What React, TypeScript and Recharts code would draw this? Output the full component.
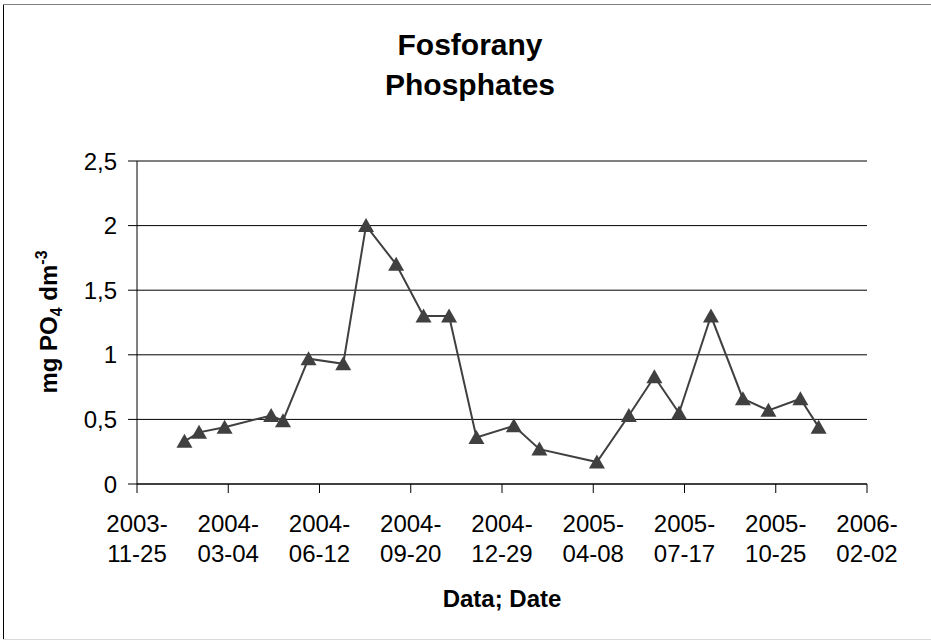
import React from 'react';
import { LineChart, Line, XAxis, YAxis, CartesianGrid } from 'recharts';

// sampling dates and phosphate concentrations (mg PO4 dm-3)
const sampleDates = [
    '2004-01-16', '2004-02-01', '2004-02-29', '2004-04-20', '2004-05-03',
    '2004-05-31', '2004-07-08', '2004-08-02', '2004-09-04', '2004-10-04',
    '2004-11-01', '2004-12-01', '2005-01-11', '2005-02-08', '2005-04-12',
    '2005-05-17', '2005-06-14', '2005-07-11', '2005-08-15', '2005-09-19',
    '2005-10-17', '2005-11-21', '2005-12-11',
];
const phosphates = [
    0.33, 0.40, 0.44, 0.53, 0.49,
    0.97, 0.93, 2.0, 1.7, 1.3,
    1.3, 0.36, 0.45, 0.27, 0.17,
    0.53, 0.83, 0.55, 1.3, 0.66,
    0.57, 0.66, 0.44,
];
const tickDates = [
    '2003-11-25', '2004-03-04', '2004-06-12', '2004-09-20', '2004-12-29',
    '2005-04-08', '2005-07-17', '2005-10-25', '2006-02-02',
];
const yTicks = [0, 0.5, 1, 1.5, 2, 2.5];

const FONT = '"Liberation Sans", Arial, sans-serif';
const DARK = '#404040';

const toUtc = (s: string) => {
    const [y, m, d] = s.split('-').map(Number);
    return Date.UTC(y, m - 1, d);
};
const origin = toUtc(tickDates[0]);
const dayOf = (s: string) => Math.round((toUtc(s) - origin) / 86400000);

const data = sampleDates.map((d, i) => ({ day: dayOf(d), value: phosphates[i] }));
const xTicks = tickDates.map(dayOf);

const DateTick = (props: any) => {
    const { x, y, index } = props;
    const label = tickDates[index] || '';
    const year = label.slice(0, 5);
    const rest = label.slice(5);
    return (
        <text x={x} y={y} textAnchor="middle" fontSize={24} fill="#000" fontFamily={FONT}>
            <tspan x={x} dy={39}>{year}</tspan>
            <tspan x={x} dy={30}>{rest}</tspan>
        </text>
    );
};

const Triangle = (props: any) => {
    const { cx, cy, index } = props;
    if (cx == null || cy == null) return null;
    return (
        <polygon
            key={index}
            points={`${cx},${cy - 7.5} ${cx + 8},${cy + 6.5} ${cx - 8},${cy + 6.5}`}
            fill={DARK}
        />
    );
};

export default function App() {
    return (
        <div style={{ position: 'absolute', left: 0, top: 0, width: 931, height: 643, background: '#fff' }}>
            <LineChart
                width={931}
                height={643}
                data={data}
                margin={{ top: 161, right: 64, left: 0, bottom: 0 }}
            >
                <CartesianGrid vertical={false} stroke="#000" strokeWidth={1} />
                <XAxis
                    dataKey="day"
                    type="number"
                    domain={[xTicks[0], xTicks[xTicks.length - 1]]}
                    ticks={xTicks}
                    interval={0}
                    height={159}
                    stroke="#000"
                    tickSize={9}
                    tickMargin={0}
                    tick={<DateTick />}
                />
                <YAxis
                    type="number"
                    domain={[0, 2.5]}
                    ticks={yTicks}
                    width={137}
                    stroke="#000"
                    tickSize={9}
                    tickMargin={11}
                    tick={{ fontSize: 24, fill: '#000', fontFamily: FONT }}
                    tickFormatter={(v) => String(v).replace('.', ',')}
                />
                <Line
                    type="linear"
                    dataKey="value"
                    stroke={DARK}
                    strokeWidth={2}
                    dot={<Triangle />}
                    activeDot={false}
                    isAnimationActive={false}
                />
            </LineChart>
            <svg
                width={931}
                height={643}
                style={{ position: 'absolute', left: 0, top: 0, pointerEvents: 'none' }}
                fontFamily={FONT}
            >
                <line x1={3.5} y1={4} x2={3.5} y2={640} stroke="#000" />
                <line x1={3} y1={4.5} x2={931} y2={4.5} stroke="#808080" />
                <line x1={3} y1={639.5} x2={931} y2={639.5} stroke="#d9d9d9" />
                <text x={470} y={55} textAnchor="middle" fontSize={30} fontWeight="bold">Fosforany</text>
                <text x={470} y={95} textAnchor="middle" fontSize={30} fontWeight="bold">Phosphates</text>
                <text x={502} y={607} textAnchor="middle" fontSize={24} fontWeight="bold">Data; Date</text>
                <text
                    transform="translate(57, 322) rotate(-90)"
                    textAnchor="middle"
                    fontSize={24}
                    fontWeight="bold"
                >
                    <tspan>mg PO</tspan>
                    <tspan fontSize={16} dy={5}>4</tspan>
                    <tspan dy={-5}> dm</tspan>
                    <tspan fontSize={16} dy={-10}>-3</tspan>
                </text>
            </svg>
        </div>
    );
}
